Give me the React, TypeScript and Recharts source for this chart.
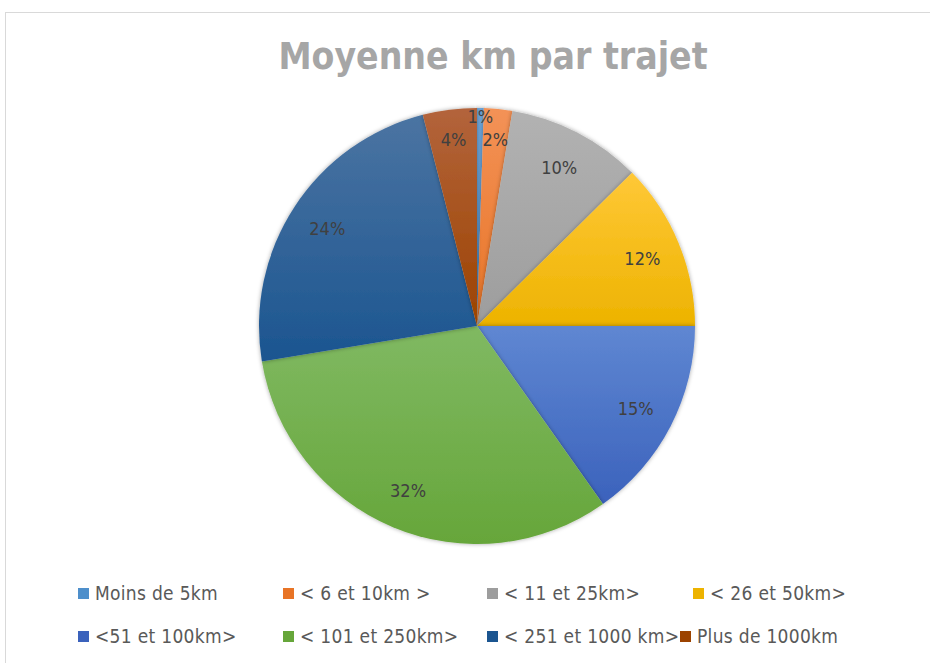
import { PieChart, Pie, Cell } from 'recharts'

const categories = [
  'Moins de 5km',
  '< 6 et 10km >',
  '< 11 et 25km>',
  '< 26 et 50km>',
  '<51 et 100km>',
  '< 101 et 250km>',
  '< 251 et 1000 km>',
  'Plus de 1000km',
]

const shares = [0.5, 2.1, 10, 12.4, 15.2, 32.2, 23.6, 4]

// top / bottom colours of the Excel-style gradient fill
const topColors = ['#6FA8DC', '#F39257', '#B2B2B2', '#FFC837', '#5F87D2', '#80B962', '#4B74A2', '#B3643C']
const bottomColors = ['#4E8FCB', '#E87426', '#9D9D9D', '#EDB300', '#3B62BC', '#66A63A', '#1B5590', '#9C4300']

const chartData = categories.map((name, i) => ({ name, value: shares[i] }))

const font = '"Liberation Sans Narrow", "DejaVu Sans Condensed", "Liberation Sans", sans-serif'

// legend item left edges (px), two rows of four
const legendRows = [
  { top: 582, lefts: [78, 283, 487, 693] },
  { top: 625, lefts: [78, 283, 487, 680] },
]

const RAD = Math.PI / 180

function renderLabel(props: any) {
  const { cx, cy, midAngle, outerRadius, value } = props
  const r = value < 1 ? outerRadius - 8 : value < 5 ? outerRadius * 0.86 : outerRadius * 0.82
  const x = cx + r * Math.cos(-midAngle * RAD)
  const y = cy + r * Math.sin(-midAngle * RAD)
  return (
    <text
      x={x}
      y={y}
      fill="#404040"
      fontSize={18}
      fontFamily={font}
      textAnchor="middle"
      dominantBaseline="central"
    >
      {`${Math.round(value)}%`}
    </text>
  )
}

export default function App() {
  return (
    <div
      style={{
        position: 'fixed',
        left: 0,
        top: 0,
        width: 930,
        height: 663,
        background: '#fff',
        overflow: 'hidden',
        fontFamily: font,
      }}
    >
      <div
        style={{
          position: 'absolute',
          left: 5,
          top: 12,
          width: 960,
          height: 700,
          border: '1px solid #D9D9D9',
        }}
      />
      <div
        style={{
          position: 'absolute',
          left: 0,
          top: 33,
          width: 986,
          textAlign: 'center',
          fontSize: 37,
          fontWeight: 'bold',
          color: '#A6A6A6',
          lineHeight: '48px',
        }}
      >
        Moyenne km par trajet
      </div>
      <div style={{ position: 'absolute', left: 0, top: 0 }}>
        <PieChart width={930} height={663} margin={{ top: 0, right: 0, bottom: 0, left: 0 }}>
          <defs>
            {topColors.map((c, i) => (
              <linearGradient key={i} id={`grad${i}`} x1="0" y1="0" x2="0" y2="1">
                <stop offset="0%" stopColor={c} />
                <stop offset="100%" stopColor={bottomColors[i]} />
              </linearGradient>
            ))}
            <filter id="shadow" x="-10%" y="-10%" width="120%" height="120%">
              <feDropShadow dx="0" dy="0" stdDeviation="2" floodColor="#000" floodOpacity="0.35" />
            </filter>
          </defs>
          <Pie
            data={chartData}
            dataKey="value"
            nameKey="name"
            cx={477}
            cy={326}
            outerRadius={218}
            startAngle={90}
            endAngle={-270}
            stroke="none"
            labelLine={false}
            label={renderLabel}
            isAnimationActive={false}
            style={{ filter: 'url(#shadow)' }}
          >
            {chartData.map((_, i) => (
              <Cell key={i} fill={`url(#grad${i})`} />
            ))}
          </Pie>
        </PieChart>
      </div>
      {legendRows.map((row, r) =>
        row.lefts.map((left, j) => {
          const idx = r * 4 + j
          return (
            <div
              key={idx}
              style={{
                position: 'absolute',
                left,
                top: row.top,
                height: 22,
                display: 'flex',
                alignItems: 'center',
                fontSize: 19,
                letterSpacing: 0.3,
                color: '#595959',
                whiteSpace: 'nowrap',
              }}
            >
              <span
                style={{
                  display: 'inline-block',
                  width: 11,
                  height: 11,
                  background: bottomColors[idx],
                  marginRight: 6,
                }}
              />
              {categories[idx]}
            </div>
          )
        })
      )}
    </div>
  )
}
